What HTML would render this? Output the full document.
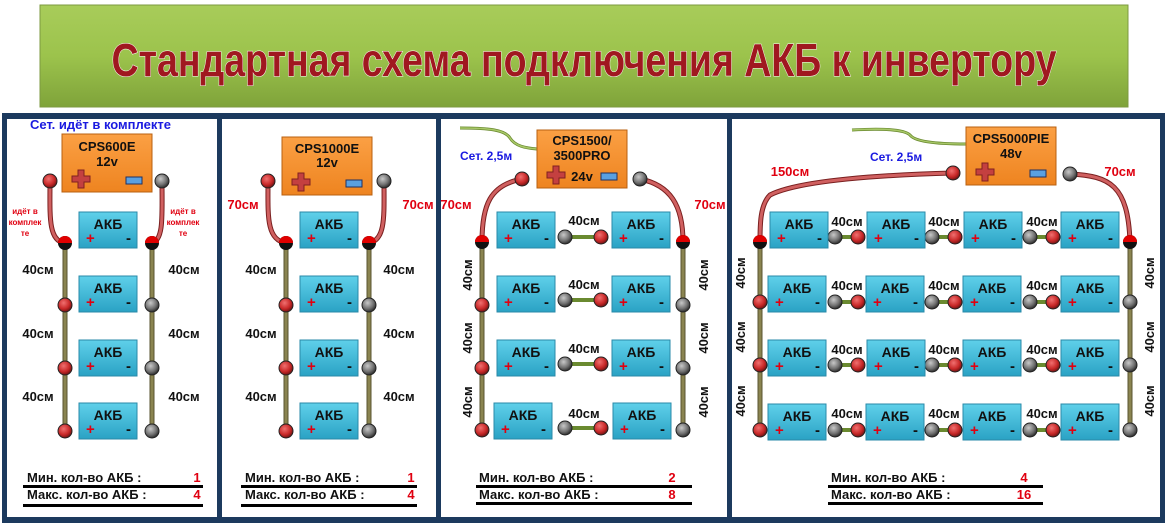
<!DOCTYPE html>
<html><head><meta charset="utf-8"><style>
html,body{margin:0;padding:0;background:#fff;width:1167px;height:527px;overflow:hidden}
svg{display:block}
text{font-family:"Liberation Sans",Arial,sans-serif;font-weight:bold}
.a{font-size:14px;fill:#111;text-anchor:middle}
.p{font-size:15px;fill:#e00010}
.m{font-size:15px;fill:#111}
.l{font-size:13px;fill:#111;text-anchor:middle}
.r{font-size:13px;fill:#e00010;text-anchor:middle}
.bt{font-size:13px;fill:#111}
.bn{font-size:13px;fill:#e00010;text-anchor:middle}
.it{font-size:13px;fill:#111;text-anchor:middle}
.bl{font-size:12px;fill:#1a1ae0}
</style></head><body>
<svg width="1167" height="527" viewBox="0 0 1167 527" xmlns="http://www.w3.org/2000/svg">
<defs>
<linearGradient id="gt" x1="0" y1="0" x2="0" y2="1"><stop offset="0" stop-color="#a8cc5a"/><stop offset="0.5" stop-color="#9cc34c"/><stop offset="1" stop-color="#7fa33a"/></linearGradient>
<linearGradient id="gb" x1="0" y1="0" x2="0" y2="1"><stop offset="0" stop-color="#5fd0ea"/><stop offset="1" stop-color="#2aa2c4"/></linearGradient>
<linearGradient id="go" x1="0" y1="0" x2="0" y2="1"><stop offset="0" stop-color="#fba044"/><stop offset="1" stop-color="#ee8420"/></linearGradient>
<radialGradient id="gr" cx="0.4" cy="0.35" r="0.7"><stop offset="0" stop-color="#f07070"/><stop offset="0.6" stop-color="#c82828"/><stop offset="1" stop-color="#601010"/></radialGradient>
<radialGradient id="gg" cx="0.4" cy="0.35" r="0.7"><stop offset="0" stop-color="#c8c8c8"/><stop offset="0.6" stop-color="#707070"/><stop offset="1" stop-color="#202020"/></radialGradient>
<g id="rn"><circle r="7" fill="url(#gr)" stroke="#222" stroke-width="1"/></g>
<g id="gn"><circle r="7" fill="url(#gg)" stroke="#222" stroke-width="1"/></g>
<g id="hn"><circle r="7" fill="#111"/><path d="M-7,0 A7,7 0 0 1 7,0 Z" fill="#e00000"/></g>
<g id="box"><rect width="58" height="36" fill="url(#gb)" stroke="#2a8aa8" stroke-width="1"/></g>
<g id="inv"><rect width="90" height="58" fill="url(#go)" stroke="#b86010" stroke-width="1"/>
<path d="M10,42 h6 v-6 h6 v6 h6 v6 h-6 v6 h-6 v-6 h-6z" fill="#c44040" stroke="#802020" stroke-width="1"/>
<rect x="64" y="43" width="16" height="7" fill="#5aa0e0" stroke="#203060" stroke-width="1"/></g>
</defs>
<!-- title -->
<rect x="40" y="5" width="1088" height="102" fill="url(#gt)" stroke="#7c9a40"/>
<text x="584" y="76" text-anchor="middle" textLength="945" lengthAdjust="spacingAndGlyphs" style="font-family:'Liberation Sans Narrow','Liberation Sans',sans-serif;font-size:46px;fill:#a01820;stroke:#fff;stroke-width:1px;paint-order:stroke">Стандартная схема подключения АКБ к инвертору</text>
<!-- frame -->
<rect x="2" y="113" width="1163" height="410" fill="#1c3a5e"/>
<rect x="7" y="119" width="210" height="398" fill="#fff"/>
<rect x="222" y="119" width="214" height="398" fill="#fff"/>
<rect x="441" y="119" width="286" height="398" fill="#fff"/>
<rect x="732" y="119" width="428" height="398" fill="#fff"/>

<!-- PANEL 1 -->
<text x="30" y="129" class="bl" style="font-size:13px">Сет. идёт в комплекте</text>
<use href="#inv" x="62" y="134"/>
<text x="107" y="151" class="it">CPS600E</text><text x="107" y="166" class="it">12v</text>
<path d="M50,181 C50,215 48,240 64,243" stroke="#7a2020" stroke-width="5" fill="none"/><path d="M50,181 C50,215 48,240 64,243" stroke="#d06060" stroke-width="3" fill="none"/>
<path d="M162,181 C162,215 164,240 152,243" stroke="#7a2020" stroke-width="5" fill="none"/><path d="M162,181 C162,215 164,240 152,243" stroke="#d06060" stroke-width="3" fill="none"/>
<use href="#rn" x="50" y="181"/><use href="#gn" x="162" y="181"/>
<text x="25" y="214" style="font-size:8px;fill:#e00010;text-anchor:middle">идёт в</text><text x="25" y="225" style="font-size:8px;fill:#e00010;text-anchor:middle">комплек</text><text x="25" y="236" style="font-size:8px;fill:#e00010;text-anchor:middle">те</text>
<text x="183" y="214" style="font-size:8px;fill:#e00010;text-anchor:middle">идёт в</text><text x="183" y="225" style="font-size:8px;fill:#e00010;text-anchor:middle">комплек</text><text x="183" y="236" style="font-size:8px;fill:#e00010;text-anchor:middle">те</text>
<line x1="65" y1="243" x2="65" y2="431" stroke="#5a5530" stroke-width="5"/><line x1="65" y1="243" x2="65" y2="431" stroke="#8a8450" stroke-width="3"/>
<line x1="152" y1="243" x2="152" y2="431" stroke="#5a5530" stroke-width="5"/><line x1="152" y1="243" x2="152" y2="431" stroke="#8a8450" stroke-width="3"/>
<use href="#hn" x="65" y="243"/><use href="#hn" x="152" y="243"/>
<use href="#rn" x="65" y="305"/><use href="#rn" x="65" y="368"/><use href="#rn" x="65" y="431"/>
<use href="#gn" x="152" y="305"/><use href="#gn" x="152" y="368"/><use href="#gn" x="152" y="431"/>
<g transform="translate(79,212)"><use href="#box"/><text x="29" y="17" class="a">АКБ</text><text x="7" y="31" class="p">+</text><text x="47" y="31" class="m">-</text></g>
<g transform="translate(79,276)"><use href="#box"/><text x="29" y="17" class="a">АКБ</text><text x="7" y="31" class="p">+</text><text x="47" y="31" class="m">-</text></g>
<g transform="translate(79,340)"><use href="#box"/><text x="29" y="17" class="a">АКБ</text><text x="7" y="31" class="p">+</text><text x="47" y="31" class="m">-</text></g>
<g transform="translate(79,403)"><use href="#box"/><text x="29" y="17" class="a">АКБ</text><text x="7" y="31" class="p">+</text><text x="47" y="31" class="m">-</text></g>
<text x="38" y="274" class="l">40см</text><text x="38" y="338" class="l">40см</text><text x="38" y="401" class="l">40см</text>
<text x="184" y="274" class="l">40см</text><text x="184" y="338" class="l">40см</text><text x="184" y="401" class="l">40см</text>
<text x="27" y="482" class="bt">Мин. кол-во АКБ :</text><text x="197" y="482" class="bn">1</text>
<rect x="23" y="485" width="180" height="3" fill="#000"/>
<text x="27" y="499" class="bt">Макс. кол-во АКБ :</text><text x="197" y="499" class="bn">4</text>
<rect x="23" y="504" width="180" height="3" fill="#000"/>

<!-- PANEL 2 -->
<use href="#inv" x="282" y="137"/>
<text x="327" y="153" class="it">CPS1000E</text><text x="327" y="167" class="it">12v</text>
<path d="M268,181 C268,215 266,240 286,243" stroke="#7a2020" stroke-width="5" fill="none"/><path d="M268,181 C268,215 266,240 286,243" stroke="#d06060" stroke-width="3" fill="none"/>
<path d="M384,181 C384,215 386,240 369,243" stroke="#7a2020" stroke-width="5" fill="none"/><path d="M384,181 C384,215 386,240 369,243" stroke="#d06060" stroke-width="3" fill="none"/>
<use href="#rn" x="268" y="181"/><use href="#gn" x="384" y="181"/>
<text x="243" y="209" class="r">70см</text><text x="418" y="209" class="r">70см</text>
<line x1="286" y1="243" x2="286" y2="431" stroke="#5a5530" stroke-width="5"/><line x1="286" y1="243" x2="286" y2="431" stroke="#8a8450" stroke-width="3"/>
<line x1="369" y1="243" x2="369" y2="431" stroke="#5a5530" stroke-width="5"/><line x1="369" y1="243" x2="369" y2="431" stroke="#8a8450" stroke-width="3"/>
<use href="#hn" x="286" y="243"/><use href="#hn" x="369" y="243"/>
<use href="#rn" x="286" y="305"/><use href="#rn" x="286" y="368"/><use href="#rn" x="286" y="431"/>
<use href="#gn" x="369" y="305"/><use href="#gn" x="369" y="368"/><use href="#gn" x="369" y="431"/>
<g transform="translate(300,212)"><use href="#box"/><text x="29" y="17" class="a">АКБ</text><text x="7" y="31" class="p">+</text><text x="47" y="31" class="m">-</text></g>
<g transform="translate(300,276)"><use href="#box"/><text x="29" y="17" class="a">АКБ</text><text x="7" y="31" class="p">+</text><text x="47" y="31" class="m">-</text></g>
<g transform="translate(300,340)"><use href="#box"/><text x="29" y="17" class="a">АКБ</text><text x="7" y="31" class="p">+</text><text x="47" y="31" class="m">-</text></g>
<g transform="translate(300,403)"><use href="#box"/><text x="29" y="17" class="a">АКБ</text><text x="7" y="31" class="p">+</text><text x="47" y="31" class="m">-</text></g>
<text x="261" y="274" class="l">40см</text><text x="261" y="338" class="l">40см</text><text x="261" y="401" class="l">40см</text>
<text x="399" y="274" class="l">40см</text><text x="399" y="338" class="l">40см</text><text x="399" y="401" class="l">40см</text>
<text x="245" y="482" class="bt">Мин. кол-во АКБ :</text><text x="411" y="482" class="bn">1</text>
<rect x="241" y="485" width="176" height="3" fill="#000"/>
<text x="245" y="499" class="bt">Макс. кол-во АКБ :</text><text x="411" y="499" class="bn">4</text>
<rect x="241" y="504" width="176" height="3" fill="#000"/>

<!-- PANEL 3 -->
<path d="M460,128 C490,128 505,130 510,138 C515,146 525,148 537,149" stroke="#6a8a30" stroke-width="3" fill="none"/><path d="M460,128 C490,128 505,130 510,138 C515,146 525,148 537,149" stroke="#a8c868" stroke-width="1.5" fill="none"/>
<text x="460" y="160" class="bl">Сет. 2,5м</text>
<use href="#inv" x="537" y="130"/>
<text x="582" y="145" class="it">CPS1500/</text><text x="582" y="160" class="it">3500PRO</text><text x="582" y="181" class="it">24v</text>
<path d="M522,179 C490,185 482,205 482,242" stroke="#7a2020" stroke-width="5" fill="none"/><path d="M522,179 C490,185 482,205 482,242" stroke="#d06060" stroke-width="3" fill="none"/>
<path d="M640,179 C670,185 683,205 683,242" stroke="#7a2020" stroke-width="5" fill="none"/><path d="M640,179 C670,185 683,205 683,242" stroke="#d06060" stroke-width="3" fill="none"/>
<use href="#rn" x="522" y="179"/><use href="#gn" x="640" y="179"/>
<text x="456" y="209" class="r">70см</text><text x="710" y="209" class="r">70см</text>
<line x1="482" y1="242" x2="482" y2="430" stroke="#5a5530" stroke-width="5"/><line x1="482" y1="242" x2="482" y2="430" stroke="#8a8450" stroke-width="3"/>
<line x1="683" y1="242" x2="683" y2="430" stroke="#5a5530" stroke-width="5"/><line x1="683" y1="242" x2="683" y2="430" stroke="#8a8450" stroke-width="3"/>
<use href="#hn" x="482" y="242"/><use href="#hn" x="683" y="242"/>
<use href="#rn" x="482" y="305"/><use href="#rn" x="482" y="368"/><use href="#rn" x="482" y="430"/>
<use href="#gn" x="683" y="305"/><use href="#gn" x="683" y="368"/><use href="#gn" x="683" y="430"/>
<g transform="translate(497,212)"><use href="#box"/><text x="29" y="17" class="a">АКБ</text><text x="7" y="31" class="p">+</text><text x="47" y="31" class="m">-</text></g>
<g transform="translate(497,276)"><use href="#box"/><text x="29" y="17" class="a">АКБ</text><text x="7" y="31" class="p">+</text><text x="47" y="31" class="m">-</text></g>
<g transform="translate(497,340)"><use href="#box"/><text x="29" y="17" class="a">АКБ</text><text x="7" y="31" class="p">+</text><text x="47" y="31" class="m">-</text></g>
<g transform="translate(494,403)"><use href="#box"/><text x="29" y="17" class="a">АКБ</text><text x="7" y="31" class="p">+</text><text x="47" y="31" class="m">-</text></g>
<g transform="translate(612,212)"><use href="#box"/><text x="29" y="17" class="a">АКБ</text><text x="7" y="31" class="p">+</text><text x="47" y="31" class="m">-</text></g>
<g transform="translate(612,276)"><use href="#box"/><text x="29" y="17" class="a">АКБ</text><text x="7" y="31" class="p">+</text><text x="47" y="31" class="m">-</text></g>
<g transform="translate(612,340)"><use href="#box"/><text x="29" y="17" class="a">АКБ</text><text x="7" y="31" class="p">+</text><text x="47" y="31" class="m">-</text></g>
<g transform="translate(613,403)"><use href="#box"/><text x="29" y="17" class="a">АКБ</text><text x="7" y="31" class="p">+</text><text x="47" y="31" class="m">-</text></g>
<g stroke="#6a8a30" stroke-width="4"><line x1="565" y1="237" x2="601" y2="237"/><line x1="565" y1="300" x2="601" y2="300"/><line x1="565" y1="364" x2="601" y2="364"/><line x1="565" y1="428" x2="601" y2="428"/></g>
<use href="#gn" x="565" y="237"/><use href="#rn" x="601" y="237"/>
<use href="#gn" x="565" y="300"/><use href="#rn" x="601" y="300"/>
<use href="#gn" x="565" y="364"/><use href="#rn" x="601" y="364"/>
<use href="#gn" x="565" y="428"/><use href="#rn" x="601" y="428"/>
<text x="584" y="225" class="l">40см</text><text x="584" y="289" class="l">40см</text><text x="584" y="353" class="l">40см</text><text x="584" y="418" class="l">40см</text>
<text transform="translate(472,275) rotate(-90)" class="l">40см</text><text transform="translate(472,338) rotate(-90)" class="l">40см</text><text transform="translate(472,402) rotate(-90)" class="l">40см</text>
<text transform="translate(708,275) rotate(-90)" class="l">40см</text><text transform="translate(708,338) rotate(-90)" class="l">40см</text><text transform="translate(708,402) rotate(-90)" class="l">40см</text>
<text x="479" y="482" class="bt">Мин. кол-во АКБ :</text><text x="672" y="482" class="bn">2</text>
<rect x="476" y="485" width="216" height="3" fill="#000"/>
<text x="479" y="499" class="bt">Макс. кол-во АКБ :</text><text x="672" y="499" class="bn">8</text>
<rect x="476" y="502" width="216" height="3" fill="#000"/>

<!-- PANEL 4 -->
<path d="M852,130 C885,128 905,130 910,135 C915,142 940,144 966,144" stroke="#6a8a30" stroke-width="3" fill="none"/><path d="M852,130 C885,128 905,130 910,135 C915,142 940,144 966,144" stroke="#a8c868" stroke-width="1.5" fill="none"/>
<text x="870" y="161" class="bl">Сет. 2,5м</text>
<use href="#inv" x="966" y="127"/>
<text x="1011" y="143" class="it">CPS5000PIE</text><text x="1011" y="158" class="it">48v</text>
<path d="M953,173 C880,175 800,180 770,195 C760,205 760,225 760,242" stroke="#7a2020" stroke-width="5" fill="none"/><path d="M953,173 C880,175 800,180 770,195 C760,205 760,225 760,242" stroke="#d06060" stroke-width="3" fill="none"/>
<path d="M1070,174 C1110,176 1128,185 1130,242" stroke="#7a2020" stroke-width="5" fill="none"/><path d="M1070,174 C1110,176 1128,185 1130,242" stroke="#d06060" stroke-width="3" fill="none"/>
<use href="#rn" x="953" y="173"/><use href="#gn" x="1070" y="174"/>
<text x="790" y="176" class="r">150см</text><text x="1120" y="176" class="r">70см</text>
<line x1="760" y1="242" x2="760" y2="430" stroke="#5a5530" stroke-width="5"/><line x1="760" y1="242" x2="760" y2="430" stroke="#8a8450" stroke-width="3"/>
<line x1="1130" y1="242" x2="1130" y2="430" stroke="#5a5530" stroke-width="5"/><line x1="1130" y1="242" x2="1130" y2="430" stroke="#8a8450" stroke-width="3"/>
<g stroke="#6a8a30" stroke-width="4">
<line x1="835" y1="237" x2="858" y2="237"/><line x1="932" y1="237" x2="955" y2="237"/><line x1="1030" y1="237" x2="1053" y2="237"/>
<line x1="835" y1="302" x2="858" y2="302"/><line x1="932" y1="302" x2="955" y2="302"/><line x1="1030" y1="302" x2="1053" y2="302"/>
<line x1="835" y1="365" x2="858" y2="365"/><line x1="932" y1="365" x2="955" y2="365"/><line x1="1030" y1="365" x2="1053" y2="365"/>
<line x1="835" y1="430" x2="858" y2="430"/><line x1="932" y1="430" x2="955" y2="430"/><line x1="1030" y1="430" x2="1053" y2="430"/>
</g>
<use href="#hn" x="760" y="242"/><use href="#hn" x="1130" y="242"/>
<use href="#rn" x="760" y="302"/><use href="#rn" x="760" y="365"/><use href="#rn" x="760" y="430"/>
<use href="#gn" x="1130" y="302"/><use href="#gn" x="1130" y="365"/><use href="#gn" x="1130" y="430"/>
<use href="#gn" x="835" y="237"/><use href="#rn" x="858" y="237"/><use href="#gn" x="932" y="237"/><use href="#rn" x="955" y="237"/><use href="#gn" x="1030" y="237"/><use href="#rn" x="1053" y="237"/>
<use href="#gn" x="835" y="302"/><use href="#rn" x="858" y="302"/><use href="#gn" x="932" y="302"/><use href="#rn" x="955" y="302"/><use href="#gn" x="1030" y="302"/><use href="#rn" x="1053" y="302"/>
<use href="#gn" x="835" y="365"/><use href="#rn" x="858" y="365"/><use href="#gn" x="932" y="365"/><use href="#rn" x="955" y="365"/><use href="#gn" x="1030" y="365"/><use href="#rn" x="1053" y="365"/>
<use href="#gn" x="835" y="430"/><use href="#rn" x="858" y="430"/><use href="#gn" x="932" y="430"/><use href="#rn" x="955" y="430"/><use href="#gn" x="1030" y="430"/><use href="#rn" x="1053" y="430"/>
<g transform="translate(770,212)"><use href="#box"/><text x="29" y="17" class="a">АКБ</text><text x="7" y="31" class="p">+</text><text x="47" y="31" class="m">-</text></g>
<g transform="translate(867,212)"><use href="#box"/><text x="29" y="17" class="a">АКБ</text><text x="7" y="31" class="p">+</text><text x="47" y="31" class="m">-</text></g>
<g transform="translate(964,212)"><use href="#box"/><text x="29" y="17" class="a">АКБ</text><text x="7" y="31" class="p">+</text><text x="47" y="31" class="m">-</text></g>
<g transform="translate(1061,212)"><use href="#box"/><text x="29" y="17" class="a">АКБ</text><text x="7" y="31" class="p">+</text><text x="47" y="31" class="m">-</text></g>
<g transform="translate(768,276)"><use href="#box"/><text x="29" y="17" class="a">АКБ</text><text x="7" y="31" class="p">+</text><text x="47" y="31" class="m">-</text></g>
<g transform="translate(866,276)"><use href="#box"/><text x="29" y="17" class="a">АКБ</text><text x="7" y="31" class="p">+</text><text x="47" y="31" class="m">-</text></g>
<g transform="translate(963,276)"><use href="#box"/><text x="29" y="17" class="a">АКБ</text><text x="7" y="31" class="p">+</text><text x="47" y="31" class="m">-</text></g>
<g transform="translate(1061,276)"><use href="#box"/><text x="29" y="17" class="a">АКБ</text><text x="7" y="31" class="p">+</text><text x="47" y="31" class="m">-</text></g>
<g transform="translate(768,340)"><use href="#box"/><text x="29" y="17" class="a">АКБ</text><text x="7" y="31" class="p">+</text><text x="47" y="31" class="m">-</text></g>
<g transform="translate(867,340)"><use href="#box"/><text x="29" y="17" class="a">АКБ</text><text x="7" y="31" class="p">+</text><text x="47" y="31" class="m">-</text></g>
<g transform="translate(963,340)"><use href="#box"/><text x="29" y="17" class="a">АКБ</text><text x="7" y="31" class="p">+</text><text x="47" y="31" class="m">-</text></g>
<g transform="translate(1061,340)"><use href="#box"/><text x="29" y="17" class="a">АКБ</text><text x="7" y="31" class="p">+</text><text x="47" y="31" class="m">-</text></g>
<g transform="translate(768,404)"><use href="#box"/><text x="29" y="17" class="a">АКБ</text><text x="7" y="31" class="p">+</text><text x="47" y="31" class="m">-</text></g>
<g transform="translate(866,404)"><use href="#box"/><text x="29" y="17" class="a">АКБ</text><text x="7" y="31" class="p">+</text><text x="47" y="31" class="m">-</text></g>
<g transform="translate(963,404)"><use href="#box"/><text x="29" y="17" class="a">АКБ</text><text x="7" y="31" class="p">+</text><text x="47" y="31" class="m">-</text></g>
<g transform="translate(1061,404)"><use href="#box"/><text x="29" y="17" class="a">АКБ</text><text x="7" y="31" class="p">+</text><text x="47" y="31" class="m">-</text></g>
<text x="847" y="226" class="l">40см</text><text x="944" y="226" class="l">40см</text><text x="1042" y="226" class="l">40см</text>
<text x="847" y="290" class="l">40см</text><text x="944" y="290" class="l">40см</text><text x="1042" y="290" class="l">40см</text>
<text x="847" y="354" class="l">40см</text><text x="944" y="354" class="l">40см</text><text x="1042" y="354" class="l">40см</text>
<text x="847" y="418" class="l">40см</text><text x="944" y="418" class="l">40см</text><text x="1042" y="418" class="l">40см</text>
<text transform="translate(745,273) rotate(-90)" class="l">40см</text><text transform="translate(745,337) rotate(-90)" class="l">40см</text><text transform="translate(745,401) rotate(-90)" class="l">40см</text>
<text transform="translate(1154,273) rotate(-90)" class="l">40см</text><text transform="translate(1154,337) rotate(-90)" class="l">40см</text><text transform="translate(1154,401) rotate(-90)" class="l">40см</text>
<text x="831" y="482" class="bt">Мин. кол-во АКБ :</text><text x="1024" y="482" class="bn">4</text>
<rect x="828" y="485" width="215" height="3" fill="#000"/>
<text x="831" y="499" class="bt">Макс. кол-во АКБ :</text><text x="1024" y="499" class="bn">16</text>
<rect x="828" y="502" width="215" height="3" fill="#000"/>
</svg>
</body></html>
